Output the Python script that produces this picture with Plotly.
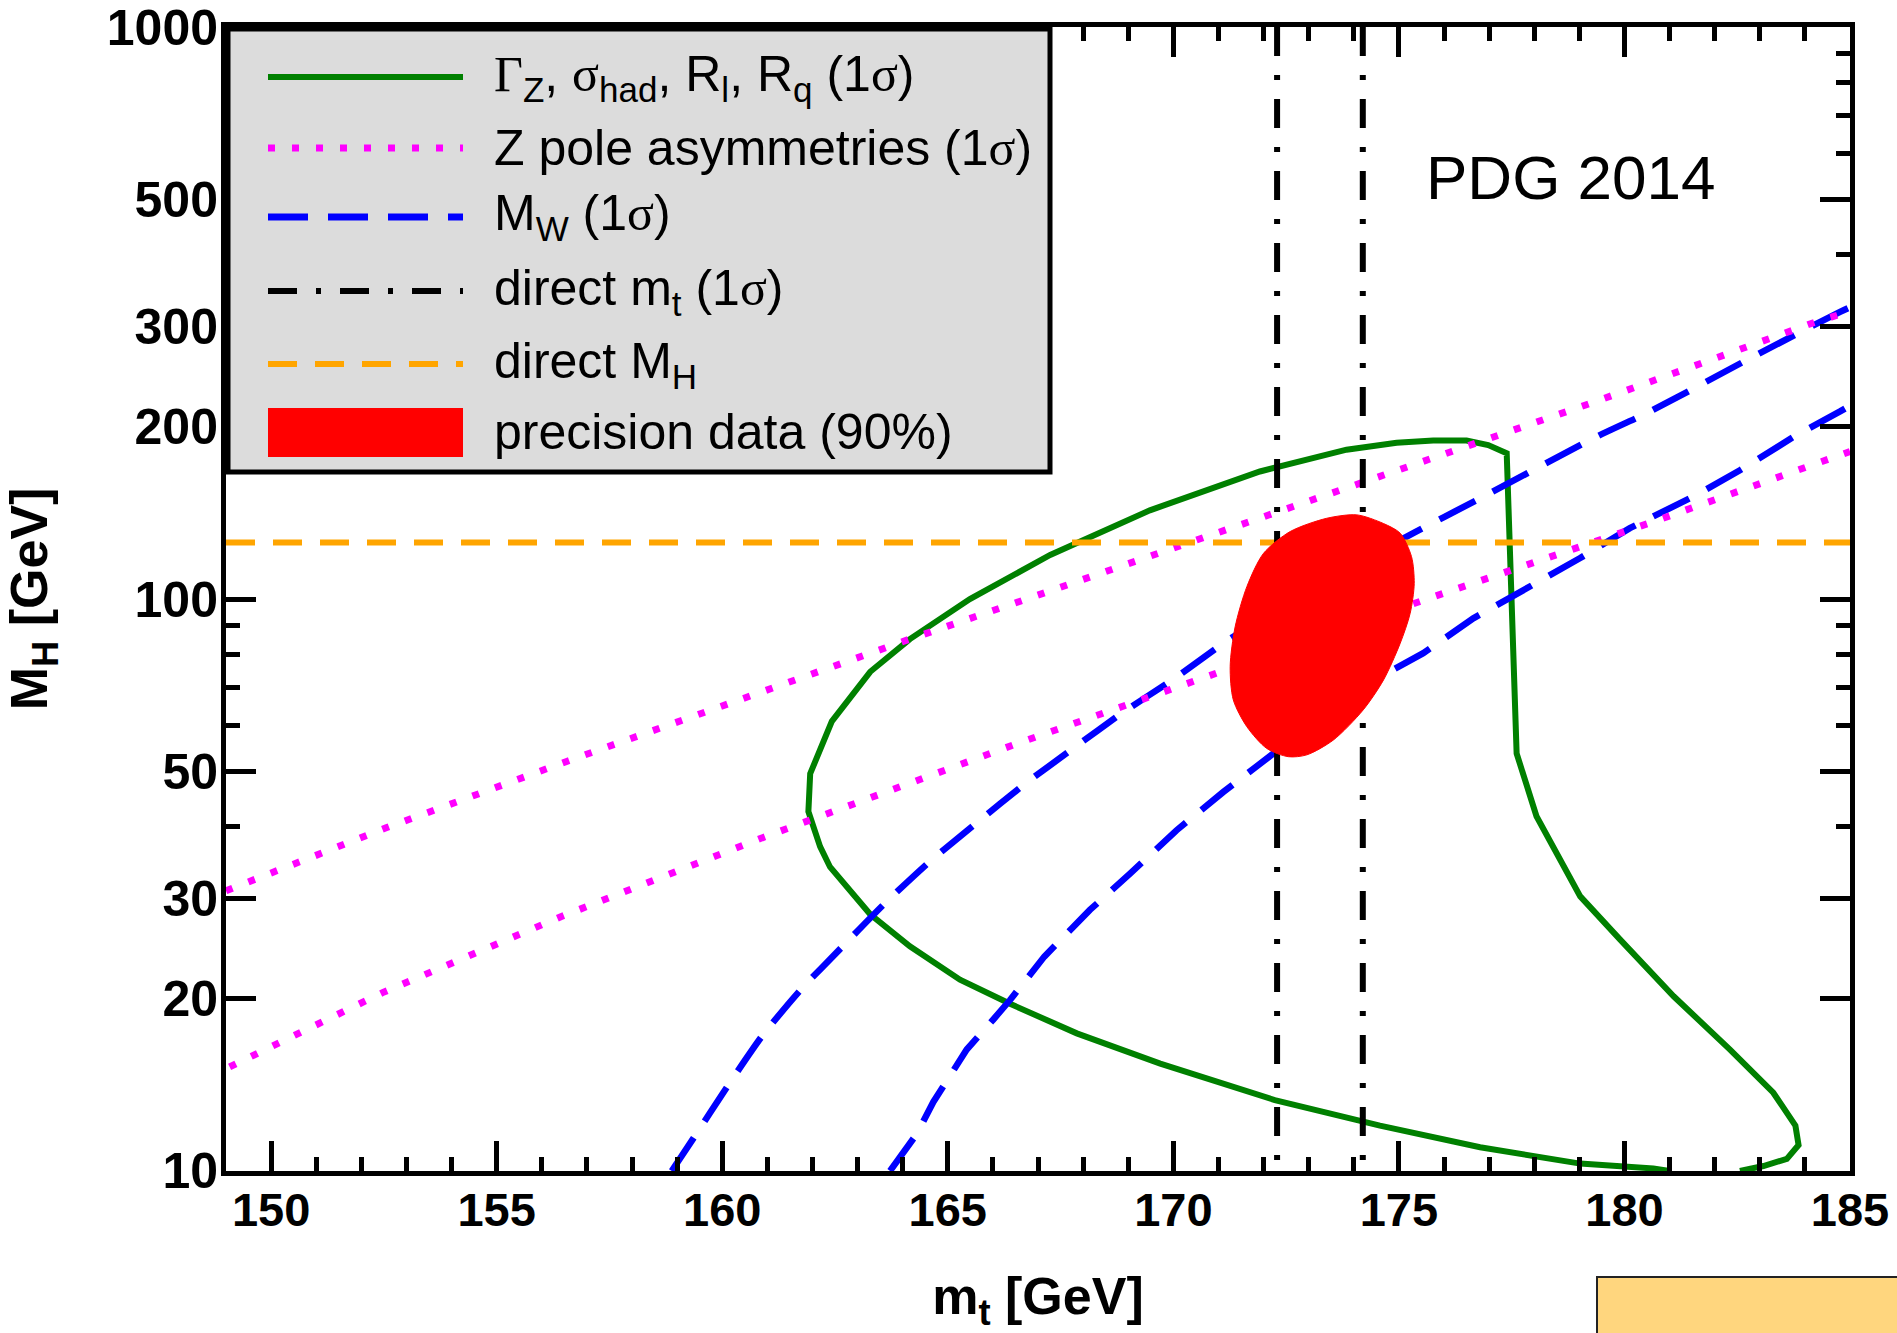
import plotly.graph_objects as go

# ---------------- data ----------------
# Gamma_Z, sigma_had, R_l, R_q (1 sigma) contour
green_mt = [181.0, 180.64, 179.02, 176.80, 174.58, 172.25, 169.71, 167.86, 166.38, 165.27,
            164.16, 163.28, 162.39, 162.17, 161.91, 161.95, 162.43, 162.87, 163.28, 164.16,
            165.49, 167.27, 169.48, 171.92, 173.84, 174.95, 175.76, 176.50, 176.98, 177.39,
            177.61, 178.05, 178.49, 179.02, 179.90, 181.09, 182.34, 183.30, 183.79, 183.86,
            183.60, 183.08, 182.56]
green_mh = [10.0, 10.1, 10.3, 11.0, 12.0, 13.3, 15.4, 17.4, 19.6, 21.6,
            24.7, 28.1, 34.0, 36.9, 42.5, 49.5, 61.1, 67.9, 74.6, 85.1,
            100.0, 119.4, 142.9, 167.1, 182.4, 187.5, 189.2, 189.2, 185.8, 179.9,
            53.7, 41.7, 35.9, 30.2, 25.4, 20.2, 16.3, 13.7, 12.0, 11.1,
            10.5, 10.2, 10.0]

# Z pole asymmetries (1 sigma): upper and lower band edges
asym_up_mt = [149.0, 152.55, 156.58, 160.12, 161.13, 164.16, 166.67, 172.74, 176.80, 179.35, 184.26, 185.0]
asym_up_mh = [30.9, 39.8, 52.1, 65.5, 70.1, 85.1, 99.5, 145.9, 188.4, 221.3, 305.5, 318.4]
asym_lo_mt = [149.08, 152.47, 156.41, 160.42, 160.91, 166.46, 171.04, 175.54, 180.64, 183.67, 184.56, 185.0]
asym_lo_mh = [15.2, 20.5, 27.8, 37.0, 38.3, 55.6, 74.6, 99.5, 136.5, 166.0, 176.2, 181.1]

# M_W (1 sigma): upper and lower band edges
mw_up_mt = [158.88, 159.36, 160.10, 160.88, 161.73, 162.67, 163.61, 164.61, 165.64, 166.68,
            167.78, 168.85, 170.00, 171.33, 175.10, 176.95, 179.31, 180.57, 182.86, 184.78, 185.0]
mw_up_mh = [10.0, 11.4, 14.0, 17.2, 20.7, 24.7, 29.4, 34.8, 40.6, 47.3,
            54.8, 63.1, 72.4, 85.9, 127.6, 152.1, 191.0, 212.8, 265.5, 317.7, 323.6]
mw_lo_mt = [163.72, 164.31, 164.68, 165.42, 166.01, 166.38, 167.14, 168.15, 169.04, 170.07,
            171.11, 172.22, 174.58, 175.54, 176.65, 177.83, 179.01, 180.12, 181.23, 181.60,
            182.56, 183.82, 184.78, 185.0]
mw_lo_mh = [10.0, 11.6, 13.2, 16.3, 18.4, 19.9, 23.7, 28.6, 33.1, 39.4,
            46.0, 53.7, 73.1, 80.4, 92.5, 104.0, 117.8, 133.0, 146.6, 152.1,
            167.9, 193.6, 212.8, 217.8]

# direct m_t (1 sigma) band edges and direct M_H
mt_direct = [172.3, 174.2]
mh_direct = 125.5

# precision data (90%) region
prec_mt = [175.03, 174.66, 174.07, 173.40, 172.59, 172.00, 171.63, 171.37, 171.26, 171.33,
           171.63, 172.07, 172.55, 172.96, 173.55, 174.21, 174.66, 175.03, 175.25, 175.34, 175.28, 175.03]
prec_mh = [130.3, 135.5, 140.3, 138.4, 131.2, 120.2, 105.1, 89.4, 76.2, 66.6,
           59.8, 54.8, 53.0, 53.4, 56.7, 64.0, 72.2, 83.7, 94.4, 106.4, 118.6, 130.3]

# axes
x_range = [149, 185]
x_major = [150, 155, 160, 165, 170, 175, 180, 185]
y_range_log = [0.9999, 3.0001]
y_major = [10, 20, 30, 50, 100, 200, 300, 500, 1000]
y_minor = [40, 60, 70, 80, 90, 400, 600, 700, 800, 900]

SERIF = "<span style=\"font-family:Liberation Serif\">{}</span>"
legend_labels = [
    SERIF.format("Γ") + "<sub>Z</sub>, " + SERIF.format("σ") + "<sub>had</sub>, R<sub>l</sub>, R<sub>q</sub> (1"
    + SERIF.format("σ") + ")",
    "Z pole asymmetries (1" + SERIF.format("σ") + ")",
    "M<sub>W</sub> (1" + SERIF.format("σ") + ")",
    "direct m<sub>t</sub> (1" + SERIF.format("σ") + ")",
    "direct M<sub>H</sub>",
    "precision data (90%)",
]

# ---------------- styles ----------------
GREEN = "#008000"
MAGENTA = "#FF00FF"
BLUE = "#0000FF"
ORANGE = "#FFA500"
RED = "#FF0000"
DOT = "7px,17px"
BLUEDASH = "40px,20px"
DASHDOT = "29px,19px,5px,19px"
ORANGEDASH = "29px,18px"

fig = go.Figure()

fig.add_trace(go.Scatter(x=green_mt, y=green_mh, mode="lines",
                         line=dict(color=GREEN, width=6), name="Gamma_Z etc."))
fig.add_trace(go.Scatter(x=mw_up_mt, y=mw_up_mh, mode="lines",
                         line=dict(color=BLUE, width=6.5, dash=BLUEDASH, shape="spline", smoothing=0.6),
                         name="M_W"))
fig.add_trace(go.Scatter(x=mw_lo_mt, y=mw_lo_mh, mode="lines",
                         line=dict(color=BLUE, width=6.5, dash=BLUEDASH), name="M_W"))
fig.add_trace(go.Scatter(x=asym_up_mt, y=asym_up_mh, mode="lines",
                         line=dict(color=MAGENTA, width=7, dash=DOT), name="asym"))
fig.add_trace(go.Scatter(x=asym_lo_mt, y=asym_lo_mh, mode="lines",
                         line=dict(color=MAGENTA, width=7, dash=DOT), name="asym"))
fig.add_trace(go.Scatter(x=[x_range[0], x_range[1]], y=[mh_direct, mh_direct], mode="lines",
                         line=dict(color=ORANGE, width=6, dash=ORANGEDASH), name="direct M_H"))
for m in mt_direct:
    fig.add_trace(go.Scatter(x=[m, m], y=[1000, 10], mode="lines",
                             line=dict(color="black", width=6, dash=DASHDOT), name="direct m_t"))
fig.add_trace(go.Scatter(x=prec_mt, y=prec_mh, mode="lines", fill="toself",
                         fillcolor=RED, line=dict(color=RED, width=1, shape="spline", smoothing=0.8),
                         name="precision"))

tickfont_y = dict(family="Liberation Sans", size=50, color="black", weight="bold")
tickfont_x = dict(family="Liberation Sans", size=47, color="black", weight="bold")

fig.update_xaxes(range=x_range, tickmode="array", tickvals=x_major,
                 ticktext=[str(v) for v in x_major], automargin=False,
                 ticks="inside", ticklen=30, tickwidth=5, tickcolor="black",
                 showline=True, linewidth=5, linecolor="black", mirror="ticks",
                 showgrid=False, zeroline=False, tickfont=tickfont_x, ticklabelstandoff=-6,
                 ticklabeloverflow="allow",
                 minor=dict(dtick=1, tick0=150, ticks="inside", ticklen=14, tickwidth=5,
                            tickcolor="black", showgrid=False),
                 title=dict(text="m<sub>t</sub> [GeV]", standoff=46,
                            font=dict(family="Liberation Sans", size=52, color="black", weight="bold")))
fig.update_yaxes(type="log", range=y_range_log, tickmode="array", tickvals=y_major,
                 ticktext=[str(v) for v in y_major], automargin=False,
                 ticks="inside", ticklen=30, tickwidth=5, tickcolor="black",
                 showline=True, linewidth=5, linecolor="black", mirror="ticks",
                 showgrid=False, zeroline=False, tickfont=tickfont_y, ticklabelstandoff=-7,
                 ticklabeloverflow="allow",
                 minor=dict(tickmode="array", tickvals=y_minor, ticks="inside", ticklen=14, tickwidth=5,
                            tickcolor="black", showgrid=False),
                 title=dict(text="M<sub>H</sub> [GeV]", standoff=52,
                            font=dict(family="Liberation Sans", size=52, color="black", weight="bold")))

# ---------------- manual legend (paper coordinates) ----------------
L, R_, T, B = 226, 1850, 27, 1171
W, H = R_ - L, B - T
px = lambda X: (X - L) / W
py = lambda Y: 1 - (Y - T) / H

shapes = []
shapes.append(dict(type="rect", xref="paper", yref="paper", x0=px(228), x1=px(1050), y0=py(472), y1=py(29),
                   fillcolor="#DCDCDC", line=dict(color="black", width=5), layer="above"))
row_y = [77, 148, 217, 291, 364]
row_style = [dict(color=GREEN, width=6), dict(color=MAGENTA, width=7, dash=DOT),
             dict(color=BLUE, width=7, dash=BLUEDASH), dict(color="black", width=6, dash=DASHDOT),
             dict(color=ORANGE, width=6, dash=ORANGEDASH)]
for yy, st in zip(row_y, row_style):
    shapes.append(dict(type="line", xref="paper", yref="paper", x0=px(268), x1=px(463), y0=py(yy), y1=py(yy),
                       line=st, layer="above"))
shapes.append(dict(type="rect", xref="paper", yref="paper", x0=px(268), x1=px(463), y0=py(457), y1=py(408),
                   fillcolor=RED, line=dict(width=0), layer="above"))
# orange box below the plot (bottom right corner of the page)
shapes.append(dict(type="rect", xref="paper", yref="paper", x0=px(1597), x1=px(1910), y0=py(1345), y1=py(1277),
                   fillcolor="#FFD67E", line=dict(color="#222222", width=2), layer="above"))

annotations = []
for yy, lab in zip(row_y + [432], legend_labels):
    annotations.append(dict(xref="paper", yref="paper", x=px(492), y=py(yy), xanchor="left", yanchor="middle",
                            text=lab, showarrow=False,
                            font=dict(family="Liberation Sans", size=50, color="black")))
annotations.append(dict(xref="paper", yref="paper", x=px(1571), y=py(178), xanchor="center", yanchor="middle",
                        text="PDG 2014", showarrow=False,
                        font=dict(family="Liberation Sans", size=62, color="black")))

fig.update_layout(width=1897, height=1333, margin=dict(l=226, r=47, t=27, b=162, autoexpand=False),
                  plot_bgcolor="white", paper_bgcolor="white", showlegend=False,
                  shapes=shapes, annotations=annotations)

fig.write_html("out.html")
